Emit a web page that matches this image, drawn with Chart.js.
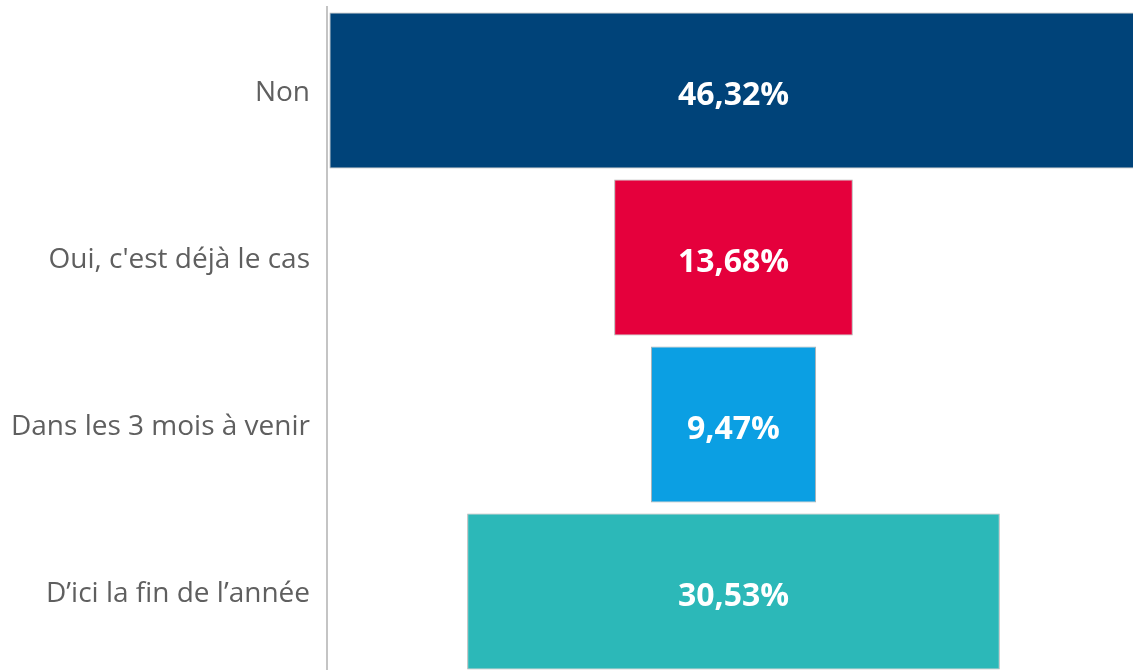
<!DOCTYPE html>
<html>
<head>
<meta charset="utf-8">
<script src="https://cdn.jsdelivr.net/npm/chart.js@4/dist/chart.umd.min.js"></script>
<style>
  html, body { margin: 0; padding: 0; background: #fff; overflow: hidden; }
  #wrap { width: 1133px; height: 675px; position: relative; }
</style>
</head>
<body>
<div id="wrap"><canvas id="funnel"></canvas></div>
<script>
// Data
const categories = ["Non", "Oui, c'est déjà le cas", "Dans les 3 mois à venir", "D\u2019ici la fin de l\u2019année"];
const percentages = [46.32, 13.68, 9.47, 30.53];
const barColors = ["#004379", "#e5003c", "#0b9fe3", "#2cb8b8"];

// Funnel centre on the value axis
const CENTER = 23.3;

// Each bar floats symmetrically around the centre
const floating = percentages.map(v => [CENTER - v / 2, CENTER + v / 2]);

// Draws the percentage in the middle of each bar
const valueLabels = {
  id: 'valueLabels',
  afterDatasetsDraw(chart) {
    const ctx = chart.ctx;
    const meta = chart.getDatasetMeta(0);
    ctx.save();
    ctx.fillStyle = '#ffffff';
    ctx.font = 'bold 32px "Open Sans", sans-serif';
    ctx.textAlign = 'center';
    ctx.textBaseline = 'middle';
    meta.data.forEach((bar, i) => {
      const cx = (bar.x + bar.base) / 2;
      const txt = percentages[i].toFixed(2).replace('.', ',') + '%';
      ctx.fillText(txt, cx, bar.y + 5);
    });
    ctx.restore();
  }
};

document.addEventListener("DOMContentLoaded", function() {
  var ctx = document.getElementById('funnel').getContext('2d');
  new Chart(ctx, {
    type: 'bar',
    data: {
      labels: categories,
      datasets: [{
        data: floating,
        backgroundColor: barColors,
        borderColor: 'rgba(110,110,110,0.55)',
        borderWidth: 1,
        borderSkipped: false,
        categoryPercentage: 1,
        barPercentage: 0.935
      }]
    },
    options: {
      indexAxis: 'y',
      responsive: true,
      maintainAspectRatio: false,
      animation: false,
      layout: { padding: { top: 7, right: 0, bottom: 0, left: 0 } },
      plugins: {
        legend: { display: false },
        tooltip: { enabled: false }
      },
      scales: {
        x: {
          display: false,
          min: 0,
          max: 46.2
        },
        y: {
          afterFit: function(scale) {
            scale.width = 327;
            scale.paddingTop = 0;
            scale.paddingBottom = 0;
          },
          grid: { display: false, drawTicks: false },
          border: { display: true, color: '#c4c4c4', width: 2 },
          ticks: {
            padding: 17,
            labelOffset: 3,
            color: '#5f5f5f',
            font: { family: '"Open Sans", sans-serif', size: 28 }
          }
        }
      }
    },
    plugins: [valueLabels]
  });
});
</script>
</body>
</html>
